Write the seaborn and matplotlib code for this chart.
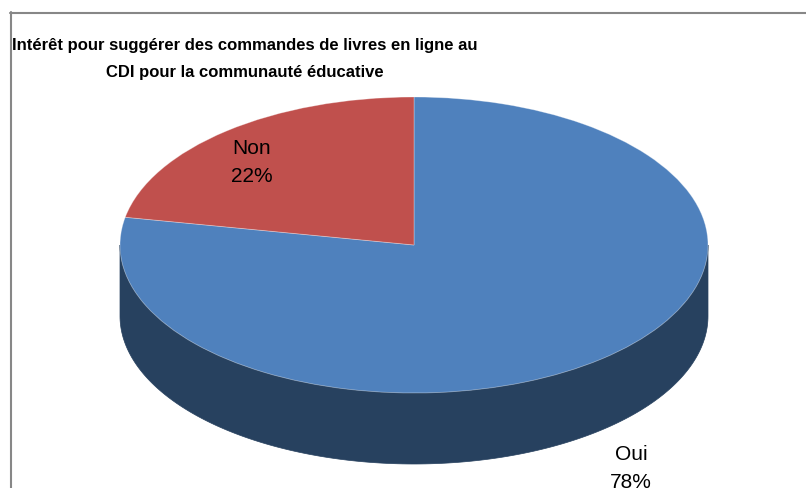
import numpy as np
import matplotlib
matplotlib.use("Agg")
import matplotlib.pyplot as plt
from matplotlib.patches import Polygon
from matplotlib.lines import Line2D
import seaborn as sns

# Survey answers
categories = ["Oui", "Non"]
shares = [78, 22]
value_labels = ["78%", "22%"]
title = ("Intérêt pour suggérer des commandes de livres en ligne au\n"
         "CDI pour la communauté éducative")

sns.set_style("white")
plt.rcParams["font.family"] = ["Liberation Sans", "DejaVu Sans"]

top_colors = sns.color_palette(["#4F81BD", "#C0504D"])
side_colors = sns.color_palette(["#27415F", "#5E2624"])

W, H = 806, 488
fig = plt.figure(figsize=(W / 100, H / 100), dpi=100)
ax = fig.add_axes([0, 0, 1, 1])

# Ellipse of the pie top in pixels: centre, half-width, half-height, thickness
cx, cy, rx, ry, depth_px = 414, 245, 294, 148, 71
depth = depth_px / ry

wedges, _ = ax.pie(shares, colors=top_colors, startangle=90, counterclock=False,
                   wedgeprops=dict(edgecolor=(1, 1, 1, 0.35), linewidth=0.6))
for w in wedges:
    w.set_zorder(3)

# Visible front wall of the disc (parametric angles 180..360)
for w, col in zip(wedges, side_colors):
    lo, hi = w.theta1, w.theta2
    for shift in (-360, 0, 360):
        a0, a1 = max(lo + shift, 180), min(hi + shift, 360)
        if a1 > a0:
            t = np.radians(np.linspace(a0, a1, 200))
            xs, ys = np.cos(t), np.sin(t)
            pts = np.concatenate([np.column_stack([xs, ys]),
                                  np.column_stack([xs[::-1], ys[::-1] - depth])])
            ax.add_patch(Polygon(pts, closed=True, facecolor=col,
                                 edgecolor=col, linewidth=0.5, zorder=2))

ax.set_aspect("auto")
ax.set_xlim(-cx / rx, (W - cx) / rx)
ax.set_ylim((cy - H) / ry, cy / ry)
ax.axis("off")


def px(x, y):
    return (x - cx) / rx, (cy - y) / ry


label_pos = {"Non": (252, 162), "Oui": (631, 468)}
for cat, lab in zip(categories, value_labels):
    x, y = px(*label_pos[cat])
    ax.text(x, y, f"{cat}\n{lab}", ha="center", va="center", fontsize=15,
            linespacing=1.6, color="black", zorder=5)

fig.text(12 / W, 1 - 59 / H, title, ha="left", va="center", multialignment="center",
         fontsize=12, fontweight="bold", linespacing=1.95, color="black")

# Chart-area frame
border = "#878787"
fig.add_artist(Line2D([10.5 / W, 10.5 / W], [0, 1 - 12 / H], color=border, lw=1.5))
fig.add_artist(Line2D([10 / W, 1], [1 - 12.5 / H, 1 - 12.5 / H], color=border, lw=1.5))

fig.savefig("out.png", dpi=100)
